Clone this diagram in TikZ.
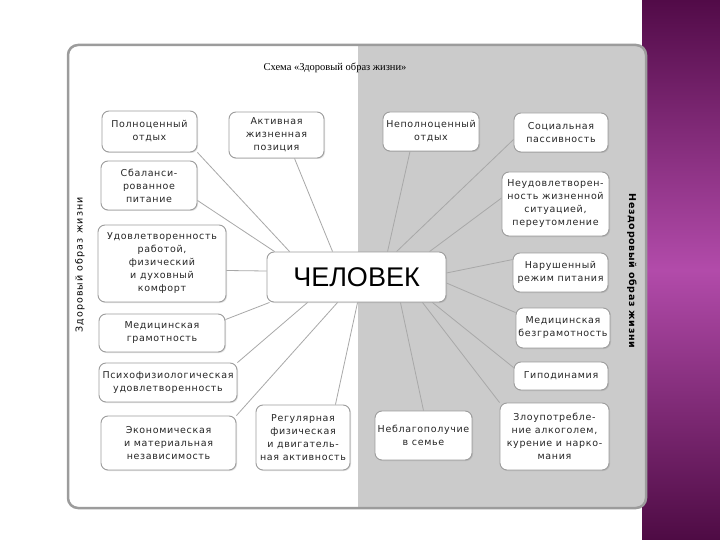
\documentclass[tikz,border=0pt]{standalone}
\usepackage{fontspec}
\setmainfont{DejaVu Sans}
\newfontfamily\boxfont[LetterSpace=7]{DejaVu Sans}
\newfontfamily\sidefont[LetterSpace=12]{DejaVu Sans}
\newfontfamily\bigfont{Liberation Sans}
\newfontfamily\titlefont{Liberation Serif}
\usetikzlibrary{calc,shadows}
\definecolor{framegray}{HTML}{9C9C9C}
\definecolor{halfgray}{HTML}{CBCBCB}
\definecolor{linegray}{HTML}{A8A8A8}
\definecolor{purpletop}{HTML}{520B48}
\definecolor{purplemid}{HTML}{B24BAA}
\definecolor{purplebot}{HTML}{4E0B44}
\tikzset{
  factor/.style={draw=framegray, fill=white, rounded corners=7pt, line width=0.9pt,
    align=center, inner sep=2pt, text=black!85, font=\boxfont\fontsize{9.5}{13}\selectfont,
    drop shadow={shadow xshift=1pt,shadow yshift=-1pt,opacity=0.25}},
  link/.style={draw=linegray, line width=0.8pt},
}

\begin{document}
\begin{tikzpicture}[x=1pt,y=-1pt]
  \useasboundingbox (0,0) rectangle (720,540);
  \shade[top color=purpletop, bottom color=purplebot, middle color=purplemid] (642,0) rectangle (720,540);
  \fill[white, rounded corners=10pt] (68,45) rectangle (646,508);
  \begin{scope}
    \clip[rounded corners=10pt] (68,45) rectangle (646,508);
    \fill[halfgray] (358,45) rectangle (646,508);
  \end{scope}
  \draw[framegray, line width=2.5pt, rounded corners=10pt] (68,45) rectangle (646,508);

  \node[font=\titlefont\fontsize{10.5}{11}\selectfont] (title) at (335,68) {Схема «Здоровый образ жизни»};
  \node[rotate=90, font=\sidefont\fontsize{9.5}{9}\selectfont] (healthy) at (80,265) {Здоровый образ жизни};
  \node[rotate=-90, font=\boxfont\bfseries\fontsize{9.5}{9}\selectfont] (unhealthy) at (632,271) {Нездоровый образ жизни};

  \node[factor, minimum width=179pt, minimum height=50pt, text=black, font=\bigfont\fontsize{27}{27}\selectfont] (chel) at (356.5,277) {ЧЕЛОВЕК};

  \node[factor, minimum width=95pt, minimum height=41pt] (polnots) at (149.5,131.5) {Полноценный\\отдых};
  \node[factor, minimum width=95pt, minimum height=46pt] (aktiv) at (276.5,135) {Активная\\жизненная\\позиция};
  \node[factor, minimum width=96pt, minimum height=49pt] (sbalans) at (149,185.5) {Сбаланси-\\рованное\\питание};
  \node[factor, minimum width=128pt, minimum height=77pt] (udovl) at (162,263.5) {Удовлетворенность\\работой,\\физический\\и духовный\\комфорт};
  \node[factor, minimum width=126pt, minimum height=38pt] (medgram) at (162,333) {Медицинская\\грамотность};
  \node[factor, minimum width=138pt, minimum height=39pt] (psycho) at (168,382.5) {Психофизиологическая\\удовлетворенность};
  \node[factor, minimum width=135pt, minimum height=54pt] (econ) at (168.5,443) {Экономическая\\и материальная\\независимость};
  \node[factor, minimum width=94pt, minimum height=65pt] (regul) at (303,437.5) {Регулярная\\физическая\\и двигатель-\\ная активность};

  \node[factor, minimum width=96pt, minimum height=39pt] (nepoln) at (431,131.5) {Неполноценный\\отдых};
  \node[factor, minimum width=94pt, minimum height=39pt] (social) at (561,132.5) {Социальная\\пассивность};
  \node[factor, minimum width=107pt, minimum height=64pt] (neudovl) at (555.5,204) {Неудовлетворен-\\ность жизненной\\ситуацией,\\переутомление};
  \node[factor, minimum width=95pt, minimum height=39pt] (narush) at (560.5,272.5) {Нарушенный\\режим питания};
  \node[factor, minimum width=94pt, minimum height=40pt] (medbez) at (563,328) {Медицинская\\безграмотность};
  \node[factor, minimum width=94pt, minimum height=28pt] (gipo) at (561,376) {Гиподинамия};
  \node[factor, minimum width=109pt, minimum height=67pt] (zlo) at (554.5,436.5) {Злоупотребле-\\ние алкоголем,\\курение и нарко-\\мания};
  \node[factor, minimum width=97pt, minimum height=49pt] (nebl) at (423.5,435.5) {Неблагополучие\\в семье};

  \draw[link] (polnots.south east) -- ($(chel.north west)+(23,0)$);
  \draw[link] ($(aktiv.south)+(18,0)$) -- ($(chel.north west)+(66,0)$);
  \draw[link] ($(sbalans.south east)+(0,-10)$) -- ($(chel.north west)+(8,0)$);
  \draw[link] ($(udovl.east)+(0,7)$) -- ($(chel.west)+(0,-6)$);
  \draw[link] ($(medgram.north east)+(0,6)$) -- ($(chel.south west)+(3,0)$);
  \draw[link] (psycho.north east) -- ($(chel.south west)+(41,0)$);
  \draw[link] (econ.north east) -- ($(chel.south west)+(71,0)$);
  \draw[link] ($(regul.north east)+(-15,0)$) -- ($(chel.south west)+(91,0)$);
  \draw[link] ($(nepoln.south)+(-21,0)$) -- ($(chel.north west)+(121,0)$);
  \draw[link] ($(social.west)+(0,7)$) -- ($(chel.north west)+(130,0)$);
  \draw[link] ($(neudovl.west)+(0,-6)$) -- ($(chel.north west)+(163,0)$);
  \draw[link] ($(narush.north west)+(0,7)$) -- ($(chel.east)+(0,-4)$);
  \draw[link] ($(medbez.north west)+(0,5)$) -- ($(chel.east)+(0,6)$);
  \draw[link] ($(gipo.north west)+(0,6)$) -- ($(chel.south east)+(-14,0)$);
  \draw[link] (zlo.north west) -- ($(chel.south east)+(-24,0)$);
  \draw[link] (nebl.north) -- ($(chel.south east)+(-46,0)$);
\end{tikzpicture}
\end{document}
